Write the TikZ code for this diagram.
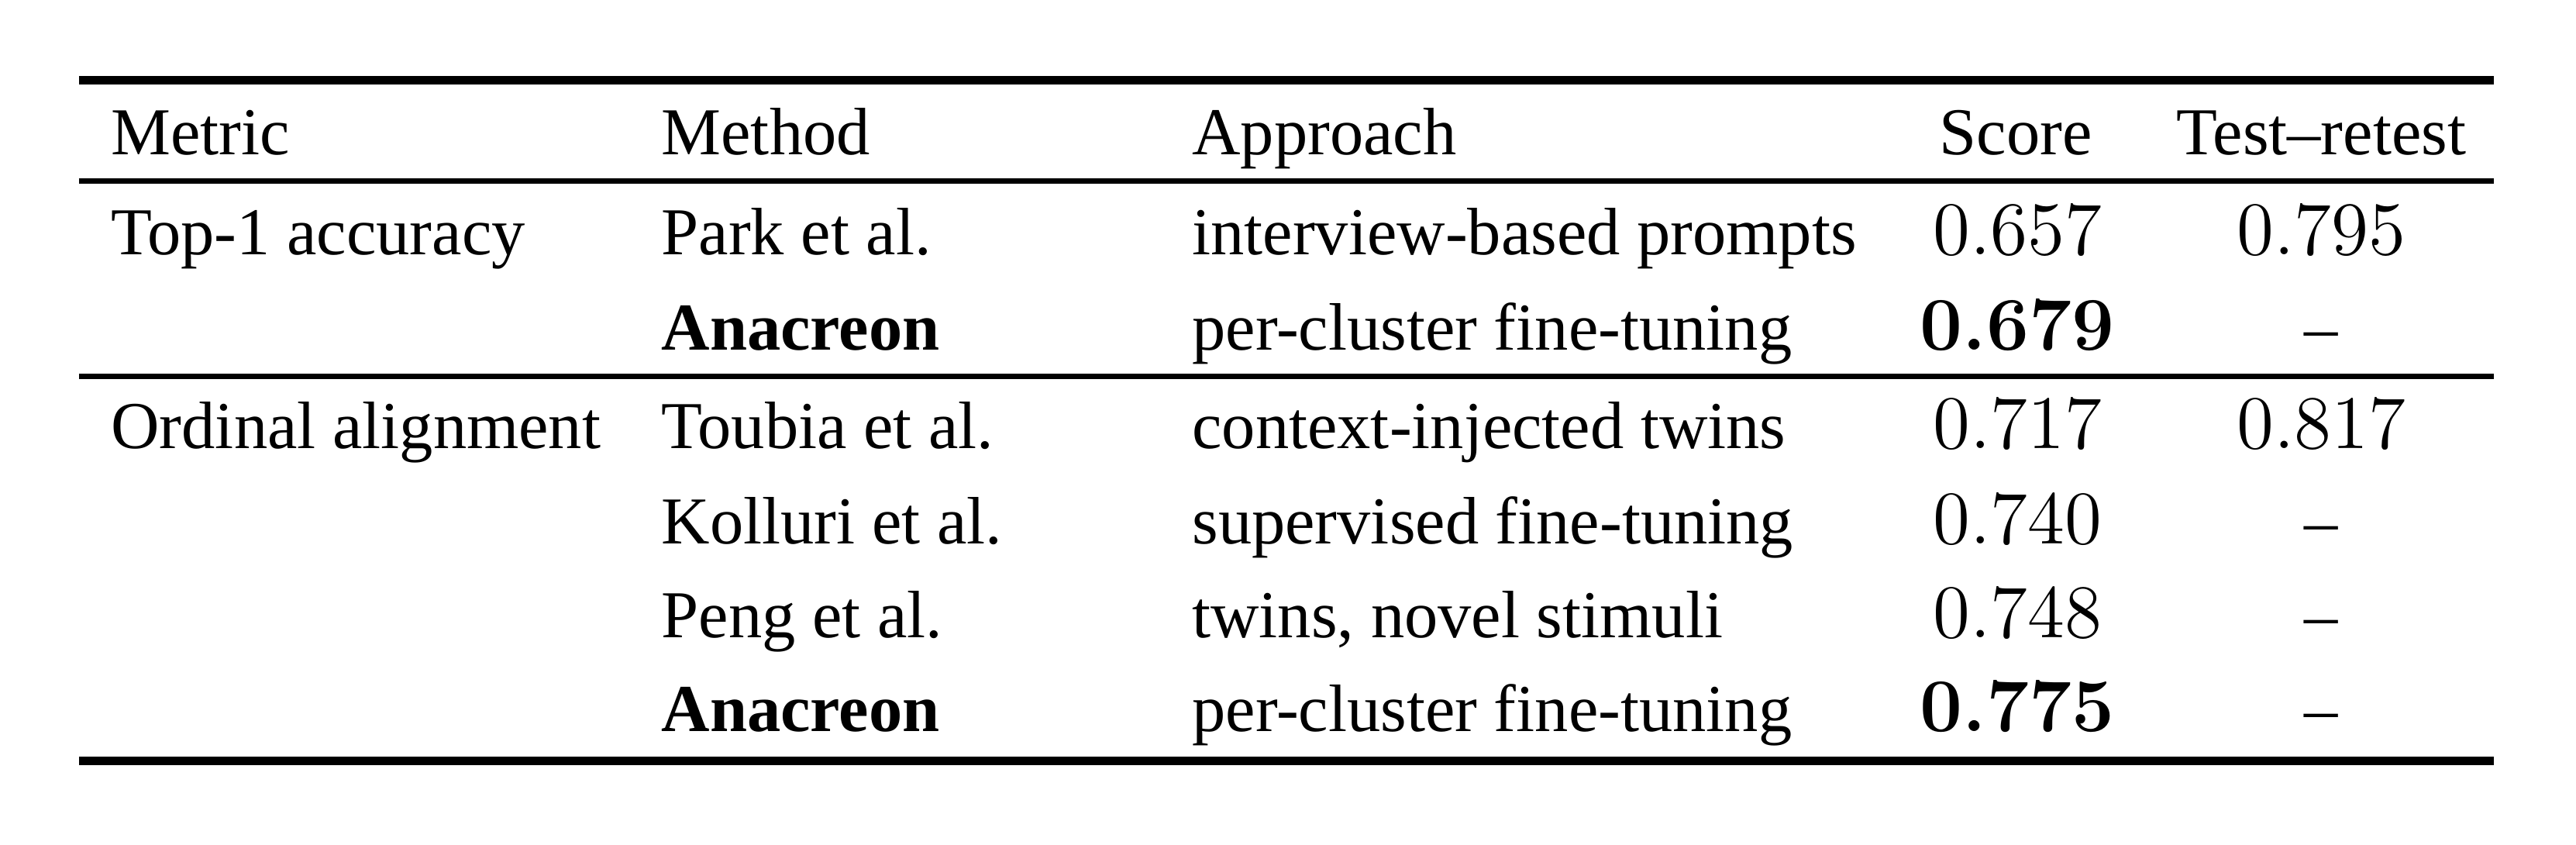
\documentclass[tikz,border=0pt]{standalone}
\usepackage{fontspec}
\setmainfont{Liberation Serif}
\newfontfamily\lmnum{Latin Modern Roman}
\begin{document}
\begin{tikzpicture}[x=0.01cm,y=-0.01cm,
  t/.style={anchor=base west,inner sep=0pt,font=\fontsize{11.6}{13}\selectfont},
  c/.style={anchor=base,inner sep=0pt,font=\fontsize{11.6}{13}\selectfont},
  n/.style={anchor=base,inner sep=0pt,font=\lmnum\fontsize{13.1}{15}\selectfont},
  thick rule/.style={line width=1.5pt},
  thin rule/.style={line width=0.9pt}]
\useasboundingbox (0,0) rectangle (1568,514);
\fill[white] (0,0) rectangle (1568,514);
\coordinate (l1) at (48,49); \coordinate (r1) at (1518,49);
\coordinate (l2) at (48,110); \coordinate (r2) at (1518,110);
\coordinate (l3) at (48,229); \coordinate (r3) at (1518,229);
\coordinate (l4) at (48,463); \coordinate (r4) at (1518,463);
\draw[thick rule] (l1) -- (r1);
\draw[thin rule] (l2) -- (r2);
\draw[thin rule] (l3) -- (r3);
\draw[thick rule] (l4) -- (r4);
% header
\node[t] (h1) at (67,94) {Metric};
\node[t] (h2) at (402,94) {Method};
\node[t] (h3) at (725,94) {Approach};
\node[c] (h4) at (1227,94) {Score};
\node[c] (h5) at (1413,94) {Test--retest};
% rows
\node[t] (m1) at (67,155) {Top-1 accuracy};
\node[t] (a1) at (402,155) {Park et al.};
\node[t] (p1) at (725,155) {interview-based prompts};
\node[n] (s1) at (1228,155) {0.657};
\node[n] (r1t) at (1413,155) {0.795};
\node[t] (a2) at (402,213) {\textbf{Anacreon}};
\node[t] (p2) at (725,213) {per-cluster fine-tuning};
\node[n] (s2) at (1228,213) {\textbf{0.679}};
\node[c] (r2t) at (1413,213) {--};
\node[t] (m2) at (67,273) {Ordinal alignment};
\node[t] (a3) at (402,273) {Toubia et al.};
\node[t] (p3) at (725,273) {context-injected twins};
\node[n] (s3) at (1228,273) {0.717};
\node[n] (r3t) at (1413,273) {0.817};
\node[t] (a4) at (402,331) {Kolluri et al.};
\node[t] (p4) at (725,331) {supervised fine-tuning};
\node[n] (s4) at (1228,331) {0.740};
\node[c] (r4t) at (1413,331) {--};
\node[t] (a5) at (402,388) {Peng et al.};
\node[t] (p5) at (725,388) {twins, novel stimuli};
\node[n] (s5) at (1228,388) {0.748};
\node[c] (r5t) at (1413,388) {--};
\node[t] (a6) at (402,445) {\textbf{Anacreon}};
\node[t] (p6) at (725,445) {per-cluster fine-tuning};
\node[n] (s6) at (1228,445) {\textbf{0.775}};
\node[c] (r6t) at (1413,445) {--};
\end{tikzpicture}
\end{document}
